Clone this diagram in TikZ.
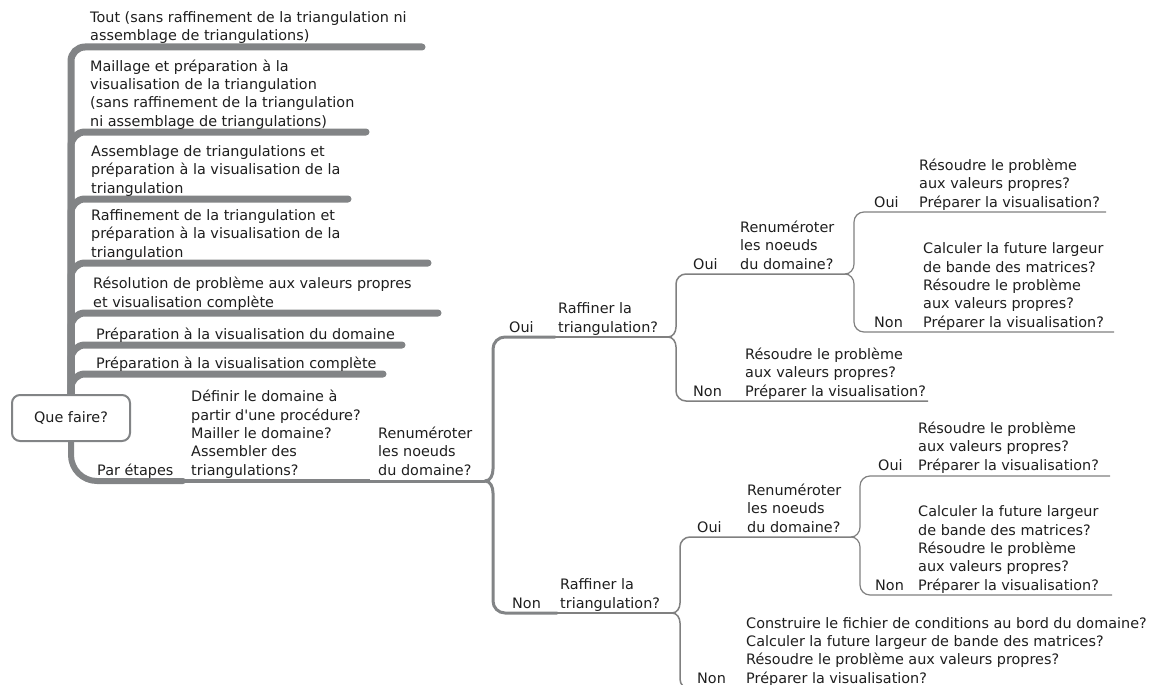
\documentclass[tikz,border=0pt]{standalone}
\usepackage{fontspec}
\setmainfont{DejaVu Sans}[Ligatures=TeXOff]
\usetikzlibrary{backgrounds}
\definecolor{branchgray}{RGB}{130,132,134}
\definecolor{linegray}{RGB}{128,128,128}
\definecolor{inkgray}{RGB}{30,30,30}
\tikzset{
  % base anchor of a multi-line topic is the baseline of its last line
  topic/.style={anchor=base west, inner sep=0pt, align=left, text=inkgray,
    font=\fontsize{14.4}{18.3}\selectfont},
  rootbox/.style={draw=branchgray, line width=2pt, rounded corners=8pt, fill=white,
    minimum width=118pt, minimum height=46pt, inner sep=0pt, text=inkgray,
    font=\fontsize{14.4}{18.3}\selectfont},
  mainbranch/.style={draw=branchgray, line width=7pt, line cap=round, rounded corners=14pt},
  stepbranch/.style={draw=branchgray, line width=6pt, line cap=round, rounded corners=26pt},
  chainA/.style={draw=branchgray, line width=4.5pt},
  chainB/.style={draw=branchgray, line width=3pt},
  forkA/.style={draw=branchgray, line width=3pt, line cap=round},
  linkA/.style={draw=linegray, line width=2pt},
  forkB/.style={draw=linegray, line width=1.5pt},
  forkC/.style={draw=linegray, line width=1.2pt},
}
\begin{document}
\begin{tikzpicture}[x=1pt, y=-1pt]
\useasboundingbox (0,0) rectangle (1156,685);
\clip (0,0) rectangle (1156,685);

% central topic
\node[rootbox] (root) at (71,418) {Que faire?};

% first-level topics
\node[topic] (t1) at (90,41) {Tout (sans raffinement de la triangulation ni\\assemblage de triangulations)};
\node[topic] (t2) at (90,126) {Maillage et préparation à la\\visualisation de la triangulation\\(sans raffinement de la triangulation\\ni assemblage de triangulations)};
\node[topic] (t3) at (91,193) {Assemblage de triangulations et\\préparation à la visualisation de la\\triangulation};
\node[topic] (t4) at (91,257) {Raffinement de la triangulation et\\préparation à la visualisation de la\\triangulation};
\node[topic] (t5) at (93,307) {Résolution de problème aux valeurs propres\\et visualisation complète};
\node[topic] (t6) at (96,339) {Préparation à la visualisation du domaine};
\node[topic] (t7) at (96,368) {Préparation à la visualisation complète};

% step by step chain
\node[topic] (pe) at (97,475) {Par étapes};
\node[topic] (def) at (191,475) {Définir le domaine à\\partir d'une procédure?\\Mailler le domaine?\\Assembler des\\triangulations?};
\node[topic] (ren1) at (378,475) {Renuméroter\\les noeuds\\du domaine?};

% after renumbering: yes
\node[topic] (oui1) at (509,332) {Oui};
\node[topic] (raf1) at (558,332) {Raffiner la\\triangulation?};
\node[topic] (oui2) at (693,269) {Oui};
\node[topic] (ren2) at (740,269) {Renuméroter\\les noeuds\\du domaine?};
\node[topic] (oui3) at (874,207) {Oui};
\node[topic] (res3) at (919,207) {Résoudre le problème\\aux valeurs propres?\\Préparer la visualisation?};
\node[topic] (non3) at (874,327) {Non};
\node[topic] (calc3) at (923,327) {Calculer la future largeur\\de bande des matrices?\\Résoudre le problème\\aux valeurs propres?\\Préparer la visualisation?};
\node[topic] (non2) at (693,396) {Non};
\node[topic] (res2) at (745,396) {Résoudre le problème\\aux valeurs propres?\\Préparer la visualisation?};

% after renumbering: no
\node[topic] (non1) at (512,608) {Non};
\node[topic] (raf2) at (560,608) {Raffiner la\\triangulation?};
\node[topic] (oui4) at (697,532) {Oui};
\node[topic] (ren4) at (747,532) {Renuméroter\\les noeuds\\du domaine?};
\node[topic] (oui5) at (878,470) {Oui};
\node[topic] (res5) at (918,470) {Résoudre le problème\\aux valeurs propres?\\Préparer la visualisation?};
\node[topic] (non5) at (875,590) {Non};
\node[topic] (calc5) at (918,590) {Calculer la future largeur\\de bande des matrices?\\Résoudre le problème\\aux valeurs propres?\\Préparer la visualisation?};
\node[topic] (non4) at (697,683) {Non};
\node[topic] (cons4) at (746,683) {Construire le fichier de conditions au bord du domaine?\\Calculer la future largeur de bande des matrices?\\Résoudre le problème aux valeurs propres?\\Préparer la visualisation?};

% underline ends and fork points
\coordinate (u1) at (422,47);
\coordinate (u2) at (366,132);
\coordinate (u3) at (348,199);
\coordinate (u4) at (428,263);
\coordinate (u5) at (438,313);
\coordinate (u6) at (402,345);
\coordinate (u7) at (383,374);
\coordinate (upe) at (183,481);
\coordinate (udef) at (370,481);
\coordinate (j1) at (485,481);
\coordinate (uoui1) at (555,337);
\coordinate (j2) at (668,337);
\coordinate (unon1) at (557,613);
\coordinate (j3) at (672,613);
\coordinate (uoui2) at (737,274);
\coordinate (j4) at (845,274);
\coordinate (unon2) at (742,401);
\coordinate (ures2) at (928,401);
\coordinate (uoui3) at (916,212);
\coordinate (ures3) at (1106,212);
\coordinate (unon3) at (920,332);
\coordinate (ucalc3) at (1114,332);
\coordinate (uoui4) at (744,537);
\coordinate (j5) at (851,537);
\coordinate (unon4) at (743,689);
\coordinate (ucons4) at (1150,689);
\coordinate (uoui5) at (915,476);
\coordinate (ures5) at (1110,476);
\coordinate (unon5) at (915,595);
\coordinate (ucalc5) at (1112,595);

\begin{scope}[on background layer]
  % first-level branches
  \foreach \u in {u1,u2,u3,u4,u5,u6,u7}
    \draw[mainbranch] (root.north) |- (\u);
  \draw[stepbranch] (root.south) |- (upe);
  \draw[chainA] (upe) -- (udef);
  \draw[chainB] (udef) -- (j1);

  % fork after the first renumbering question
  \draw[forkA] (j1) to[out=0,in=-90] (493,469) -- (493,349)
     to[out=90,in=180] (505,337) -- (uoui1);
  \draw[forkA] (j1) to[out=0,in=90] (493,493) -- (493,601)
     to[out=-90,in=180] (505,613) -- (unon1);
  \draw[linkA] (uoui1) -- (j2);
  \draw[linkA] (unon1) -- (j3);

  % fork after refining (yes branch)
  \draw[forkB] (j2) to[out=0,in=-90] (676,327) -- (676,284)
     to[out=90,in=180] (686,274) -- (uoui2) -- (j4);
  \draw[forkB] (j2) to[out=0,in=90] (676,347) -- (676,391)
     to[out=-90,in=180] (686,401) -- (unon2) -- (ures2);
  \draw[forkC] (j4) to[out=0,in=-90] (854,264) -- (854,222)
     to[out=90,in=180] (864,212) -- (uoui3) -- (ures3);
  \draw[forkC] (j4) to[out=0,in=90] (854,284) -- (854,322)
     to[out=-90,in=180] (864,332) -- (unon3) -- (ucalc3);

  % fork after refining (no branch)
  \draw[forkB] (j3) to[out=0,in=-90] (680,603) -- (680,547)
     to[out=90,in=180] (690,537) -- (uoui4) -- (j5);
  \draw[forkB] (j3) to[out=0,in=90] (680,623) -- (680,679)
     to[out=-90,in=180] (690,689) -- (unon4) -- (ucons4);
  \draw[forkC] (j5) to[out=0,in=-90] (860,527) -- (860,486)
     to[out=90,in=180] (870,476) -- (uoui5) -- (ures5);
  \draw[forkC] (j5) to[out=0,in=90] (860,547) -- (860,585)
     to[out=-90,in=180] (870,595) -- (unon5) -- (ucalc5);
\end{scope}
\end{tikzpicture}
\end{document}
